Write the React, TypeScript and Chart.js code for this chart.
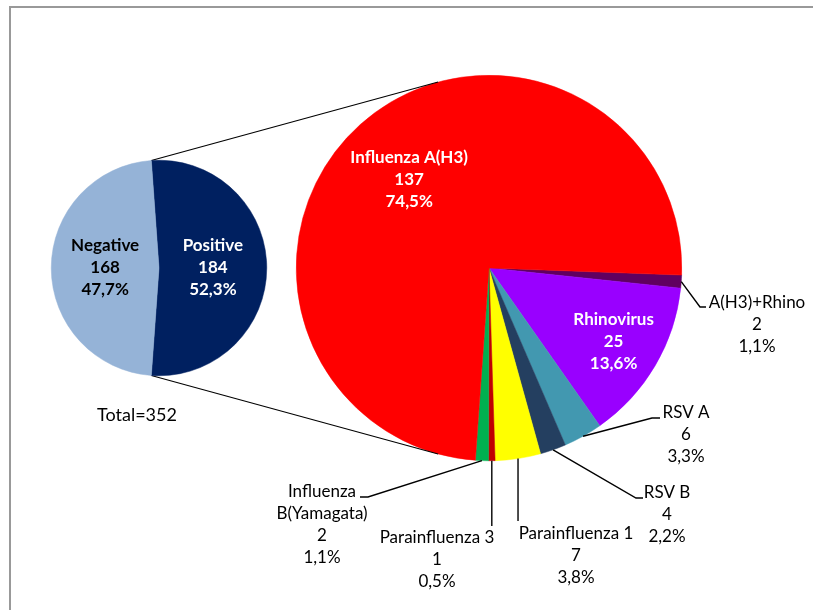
import { useEffect, useRef } from 'react';
import { Chart, registerables } from 'chart.js';
Chart.register(...registerables);

// ---------- data ----------
const overviewLabels = ['Positive', 'Negative'];
const overviewValues = [184, 168];
const overviewColors = ['#002060', '#95B3D7'];
const overviewTextColors = ['#FFFFFF', '#000000'];

const detailLabels = [
  'A(H3)+Rhino',
  'Rhinovirus',
  'RSV A',
  'RSV B',
  'Parainfluenza 1',
  'Parainfluenza 3',
  'Influenza\nB(Yamagata)',
  'Influenza A(H3)',
];
const detailValues = [2, 25, 6, 4, 7, 1, 2, 137];
const detailColors = ['#600060', '#9900FF', '#4298B0', '#243F60', '#FFFF00', '#C00000', '#00B050', '#FF0000'];
const detailTextColors = ['#000', '#FFF', '#000', '#000', '#000', '#000', '#000', '#FFF'];

// ---------- layout (not data) ----------
const W = 813;
const H = 610;
const FONT = 'Lato, "Open Sans", sans-serif';
const FS = 17;
const LH = 22;

type LabelLayout =
  | { kind: 'in'; frac: number }
  | { kind: 'out'; elbow: [number, number]; end: [number, number]; text: [number, number] }
  | { kind: 'vert'; endDy: number; text: [number, number] };

// offsets relative to pie centre (px)
const detailLabelLayout: LabelLayout[] = [
  { kind: 'out', elbow: [211, 39], end: [217, 39], text: [268, 35] },
  { kind: 'in', frac: 0.75 },
  { kind: 'out', elbow: [163, 150], end: [171, 150], text: [197, 145] },
  { kind: 'out', elbow: [147, 230], end: [154, 230], text: [178, 225] },
  { kind: 'vert', endDy: 253, text: [87, 266] },
  { kind: 'vert', endDy: 258, text: [-52, 270] },
  { kind: 'out', elbow: [-121, 229], end: [-129, 229], text: [-167, 224] },
  { kind: 'in', frac: 0.62 },
];

const pct = (v: number, total: number) => ((v / total) * 100).toFixed(1).replace('.', ',') + '%';
const sum = (a: number[]) => a.reduce((s, v) => s + v, 0);

function drawLines(ctx: CanvasRenderingContext2D, lines: string[], cx: number, firstY: number, color: string, bold: boolean) {
  ctx.save();
  ctx.fillStyle = color;
  ctx.font = `${bold ? 'bold ' : ''}${FS}px ${FONT}`;
  ctx.textAlign = 'center';
  ctx.textBaseline = 'middle';
  lines.forEach((l, i) => ctx.fillText(l, cx, firstY + i * LH));
  ctx.restore();
}

export default function App() {
  const bigRef = useRef<HTMLCanvasElement>(null);
  const smallRef = useRef<HTMLCanvasElement>(null);

  useEffect(() => {
    const overviewTotal = sum(overviewValues);
    const detailTotal = sum(detailValues);

    const smallLabelPlugin = {
      id: 'smallLabels',
      afterDatasetsDraw(chart: any) {
        const ctx = chart.ctx as CanvasRenderingContext2D;
        const meta = chart.getDatasetMeta(0);
        meta.data.forEach((arc: any, i: number) => {
          const p = arc.getProps(['x', 'y', 'startAngle', 'endAngle', 'outerRadius'], true);
          const mid = (p.startAngle + p.endAngle) / 2;
          const cx = p.x + Math.cos(mid) * p.outerRadius * 0.5;
          const cy = p.y + Math.sin(mid) * p.outerRadius * 0.5;
          const lines = [overviewLabels[i], String(overviewValues[i]), pct(overviewValues[i], overviewTotal)];
          drawLines(ctx, lines, cx, cy - LH, overviewTextColors[i], true);
        });
        const a0 = meta.data[0].getProps(['x', 'y', 'outerRadius'], true);
        ctx.save();
        ctx.fillStyle = '#000';
        ctx.font = `18px ${FONT}`;
        ctx.textAlign = 'center';
        ctx.textBaseline = 'middle';
        ctx.fillText('Total=' + overviewTotal, a0.x - 22, a0.y + 147);
        ctx.restore();
      },
    };

    const small = new Chart(smallRef.current!, {
      type: 'pie',
      data: {
        labels: overviewLabels,
        datasets: [
          {
            data: overviewValues,
            backgroundColor: overviewColors,
            borderColor: overviewColors,
            borderWidth: 0.5,
          },
        ],
      },
      options: {
        responsive: false,
        devicePixelRatio: 1,
        animation: false,
        events: [],
        rotation: 90 - (overviewValues[0] / overviewTotal) * 180,
        layout: { padding: { left: 51, right: W - 267, top: 160, bottom: H - 376 } },
        plugins: { legend: { display: false }, tooltip: { enabled: false } },
      },
      plugins: [smallLabelPlugin],
    });

    const bigPlugin = {
      id: 'bigLabels',
      afterDatasetsDraw(chart: any) {
        const ctx = chart.ctx as CanvasRenderingContext2D;
        const meta = chart.getDatasetMeta(0);
        // connector lines from small pie positive slice, tangent to big pie
        const sArc = small.getDatasetMeta(0).data[0] as any;
        const s = sArc.getProps(['x', 'y', 'startAngle', 'endAngle', 'outerRadius'], true);
        const b = (meta.data[0] as any).getProps(['x', 'y', 'outerRadius'], true);
        ctx.save();
        ctx.strokeStyle = '#000';
        ctx.lineWidth = 1.1;
        [
          [s.startAngle, 1],
          [s.endAngle, -1],
        ].forEach(([ang, sign]) => {
          const px = s.x + Math.cos(ang) * s.outerRadius;
          const py = s.y + Math.sin(ang) * s.outerRadius;
          const dx = px - b.x;
          const dy = py - b.y;
          const d = Math.hypot(dx, dy);
          const t = Math.atan2(dy, dx) + sign * Math.acos(b.outerRadius / d);
          ctx.beginPath();
          ctx.moveTo(px, py);
          ctx.lineTo(b.x + Math.cos(t) * b.outerRadius, b.y + Math.sin(t) * b.outerRadius);
          ctx.stroke();
        });
        ctx.restore();

        meta.data.forEach((arc: any, i: number) => {
          const p = arc.getProps(['x', 'y', 'startAngle', 'endAngle', 'outerRadius'], true);
          const mid = (p.startAngle + p.endAngle) / 2;
          const L = detailLabelLayout[i];
          const lines = [...detailLabels[i].split('\n'), String(detailValues[i]), pct(detailValues[i], detailTotal)];
          if (L.kind === 'in') {
            const cx = p.x + Math.cos(mid) * p.outerRadius * L.frac;
            const cy = p.y + Math.sin(mid) * p.outerRadius * L.frac;
            drawLines(ctx, lines, cx, cy - ((lines.length - 1) * LH) / 2, detailTextColors[i], true);
            return;
          }
          const ex = p.x + Math.cos(mid) * p.outerRadius;
          const ey = p.y + Math.sin(mid) * p.outerRadius;
          ctx.save();
          ctx.strokeStyle = '#000';
          ctx.lineWidth = 1.4;
          ctx.beginPath();
          ctx.moveTo(ex, ey);
          if (L.kind === 'out') {
            ctx.lineTo(p.x + L.elbow[0], p.y + L.elbow[1]);
            ctx.lineTo(p.x + L.end[0], p.y + L.end[1]);
          } else {
            ctx.lineTo(ex, p.y + L.endDy);
          }
          ctx.stroke();
          ctx.restore();
          drawLines(ctx, lines, p.x + L.text[0], p.y + L.text[1], detailTextColors[i], false);
        });
      },
    };

    const big = new Chart(bigRef.current!, {
      type: 'pie',
      data: {
        labels: detailLabels,
        datasets: [
          {
            data: detailValues,
            backgroundColor: detailColors,
            borderColor: detailColors,
            borderWidth: 0.5,
          },
        ],
      },
      options: {
        responsive: false,
        devicePixelRatio: 1,
        animation: false,
        events: [],
        rotation: 92.1,
        layout: { padding: { left: 296, right: W - 682, top: 75, bottom: H - 461 } },
        plugins: { legend: { display: false }, tooltip: { enabled: false } },
      },
      plugins: [bigPlugin],
    });

    return () => {
      big.destroy();
      small.destroy();
    };
  }, []);

  const canvasStyle: React.CSSProperties = { position: 'absolute', left: 0, top: 0, width: W, height: H, display: 'block' };

  return (
    <div style={{ position: 'fixed', left: 0, top: 0, width: W, height: H, background: '#fff', overflow: 'hidden' }}>
      <div
        style={{
          position: 'absolute',
          left: 9,
          top: 6,
          width: 1000,
          height: 1000,
          borderLeft: '2px solid #999',
          borderTop: '2px solid #999',
        }}
      />
      <canvas ref={bigRef} width={W} height={H} style={canvasStyle} />
      <canvas ref={smallRef} width={W} height={H} style={canvasStyle} />
    </div>
  );
}
